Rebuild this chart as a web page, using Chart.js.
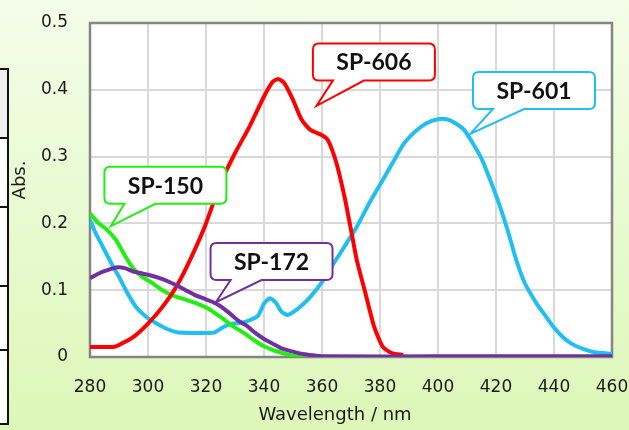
<!DOCTYPE html>
<html>
<head>
<meta charset="utf-8">
<script src="https://cdn.jsdelivr.net/npm/chart.js@4.4.1/dist/chart.umd.min.js"></script>
<style>
  html, body { margin: 0; padding: 0; }
  body {
    width: 629px; height: 430px; overflow: hidden; position: relative;
    background: linear-gradient(#f4fde9, #dcf7b8);
  }
  #wrap { position: absolute; left: 0; top: 0; width: 629px; height: 430px; }
  .cell { position: absolute; left: -3px; width: 8px; border: 2px solid #111; background: #fff; }
</style>
</head>
<body>
<div class="cell" style="top:68px;height:67px;background:#f0f0f0"></div>
<div class="cell" style="top:137px;height:67px"></div>
<div class="cell" style="top:206px;height:77px"></div>
<div class="cell" style="top:285px;height:62px"></div>
<div class="cell" style="top:349px;height:72px"></div>
<div id="wrap"><canvas id="chart" width="629" height="430"></canvas></div>
<script>
// SP-606 (red)
const sp606Nm  = [280, 285, 288, 290, 295, 300, 305, 310, 315, 320, 325, 330, 335, 340, 343, 345, 347, 350, 353, 356, 360, 362, 365, 368, 370, 372, 375, 378, 381, 384, 388];
const sp606Abs = [0.015, 0.015, 0.015, 0.018, 0.03, 0.05, 0.075, 0.107, 0.15, 0.2, 0.26, 0.305, 0.345, 0.39, 0.412, 0.416, 0.41, 0.385, 0.355, 0.34, 0.332, 0.325, 0.29, 0.235, 0.19, 0.145, 0.095, 0.045, 0.015, 0.006, 0.003];

// SP-601 (light blue)
const sp601Nm  = [280, 282, 285, 288, 290, 293, 296, 300, 303, 306, 310, 315, 320, 323, 326, 329, 332, 335, 338, 340, 342, 344, 346, 348, 350, 353, 356, 360, 364, 368, 372, 376, 380, 384, 388, 392, 396, 400, 403, 406, 409, 412, 415, 418, 421, 424, 427, 430, 434, 437, 440, 443, 446, 450, 454, 460];
const sp601Abs = [0.205, 0.185, 0.16, 0.135, 0.12, 0.095, 0.074, 0.058, 0.05, 0.043, 0.037, 0.036, 0.036, 0.037, 0.045, 0.05, 0.051, 0.055, 0.062, 0.08, 0.088, 0.082, 0.068, 0.063, 0.067, 0.077, 0.09, 0.112, 0.14, 0.167, 0.195, 0.228, 0.258, 0.288, 0.318, 0.337, 0.35, 0.356, 0.356, 0.35, 0.34, 0.32, 0.297, 0.265, 0.23, 0.19, 0.145, 0.11, 0.08, 0.062, 0.044, 0.03, 0.02, 0.012, 0.007, 0.005];

// SP-150 (green)
const sp150Nm  = [280, 283, 286, 289, 292, 295, 298, 301, 305, 309, 313, 317, 321, 325, 329, 333, 337, 340, 344, 348, 352, 356, 400, 460];
const sp150Abs = [0.215, 0.2, 0.19, 0.175, 0.152, 0.132, 0.12, 0.112, 0.1, 0.091, 0.086, 0.08, 0.072, 0.06, 0.047, 0.036, 0.024, 0.016, 0.009, 0.004, 0.001, 0, 0, 0];

// SP-172 (purple)
const sp172Nm  = [280, 283, 286, 289, 292, 295, 298, 301, 304, 307, 310, 313, 316, 319, 322, 325, 328, 331, 334, 337, 340, 343, 346, 350, 354, 358, 362, 400, 460];
const sp172Abs = [0.118, 0.125, 0.13, 0.134, 0.133, 0.128, 0.125, 0.122, 0.118, 0.113, 0.107, 0.1, 0.093, 0.088, 0.083, 0.076, 0.066, 0.055, 0.047, 0.036, 0.027, 0.02, 0.013, 0.008, 0.004, 0.002, 0.001, 0.001, 0.001];

const xTicks = [280, 300, 320, 340, 360, 380, 400, 420, 440, 460];
const yTicks = [0, 0.1, 0.2, 0.3, 0.4, 0.5];

// callouts: box centre and pointer tip in data units
const calloutLabels = ['SP-606', 'SP-601', 'SP-150', 'SP-172'];
const calloutColors = ['#ff0000', '#1fbff2', '#22ee11', '#7030a0'];
const calloutBoxNm  = [377.9, 433.1, 306.0, 342.6];
const calloutBoxAbs = [0.4416, 0.399, 0.257, 0.143];
const calloutTipNm  = [358.1, 411.1, 287.2, 323.4];
const calloutTipAbs = [0.376, 0.334, 0.196, 0.082];

const pairs = (xs, ys) => xs.map((x, i) => ({ x, y: ys[i] }));

const plotBackground = {
  id: 'plotBackground',
  beforeDraw(chart) {
    const { ctx, chartArea: a } = chart;
    ctx.save();
    ctx.fillStyle = '#ffffff';
    ctx.fillRect(a.left, a.top, a.right - a.left, a.bottom - a.top);
    ctx.restore();
  },
  beforeDatasetsDraw(chart) {
    const { ctx, chartArea: a } = chart;
    ctx.save();
    ctx.strokeStyle = '#858585';
    ctx.lineWidth = 2.5;
    ctx.strokeRect(a.left, a.top, a.right - a.left, a.bottom - a.top);
    ctx.restore();
  }
};

const axisTitles = {
  id: 'axisTitles',
  afterDraw(chart) {
    const { ctx, chartArea: a } = chart;
    ctx.save();
    ctx.fillStyle = '#1a1a1a';
    ctx.font = '18px "DejaVu Sans"';
    ctx.textAlign = 'center';
    ctx.textBaseline = 'middle';
    ctx.fillText('Wavelength / nm', (a.left + a.right) / 2 - 16, 415);
    ctx.translate(20, (a.top + a.bottom) / 2 - 10);
    ctx.rotate(-Math.PI / 2);
    ctx.fillText('Abs.', 0, 0);
    ctx.restore();
  }
};

const callouts = {
  id: 'callouts',
  afterDatasetsDraw(chart) {
    const { ctx, scales: { x, y } } = chart;
    const w = 122, h = 37, r = 6;
    calloutLabels.forEach((label, i) => {
      const cx = x.getPixelForValue(calloutBoxNm[i]);
      const cy = y.getPixelForValue(calloutBoxAbs[i]);
      const tx = x.getPixelForValue(calloutTipNm[i]);
      const ty = y.getPixelForValue(calloutTipAbs[i]);
      const l = cx - w / 2, t = cy - h / 2, rr = l + w, b = t + h;
      ctx.save();
      ctx.beginPath();
      ctx.moveTo(l + r, t);
      ctx.lineTo(rr - r, t);
      ctx.quadraticCurveTo(rr, t, rr, t + r);
      ctx.lineTo(rr, b - r);
      ctx.quadraticCurveTo(rr, b, rr - r, b);
      ctx.lineTo(l + 51, b);
      ctx.lineTo(tx, ty);
      ctx.lineTo(l + 20, b);
      ctx.lineTo(l + r, b);
      ctx.quadraticCurveTo(l, b, l, b - r);
      ctx.lineTo(l, t + r);
      ctx.quadraticCurveTo(l, t, l + r, t);
      ctx.closePath();
      ctx.fillStyle = '#ffffff';
      ctx.fill();
      ctx.strokeStyle = calloutColors[i];
      ctx.lineWidth = 2;
      ctx.stroke();
      ctx.fillStyle = '#111111';
      ctx.font = 'bold 23px Lato';
      ctx.textAlign = 'center';
      ctx.textBaseline = 'middle';
      ctx.fillText(label, cx, cy + 1);
      ctx.restore();
    });
  }
};

const lineStyle = { showLine: true, pointRadius: 0, borderWidth: 4, tension: 0.2, fill: false };

new Chart(document.getElementById('chart'), {
  type: 'scatter',
  data: {
    datasets: [
      { ...lineStyle, label: 'SP-172', data: pairs(sp172Nm, sp172Abs), borderColor: '#7030a0', order: 0 },
      { ...lineStyle, label: 'SP-606', data: pairs(sp606Nm, sp606Abs), borderColor: '#ff0000', order: 1 },
      { ...lineStyle, label: 'SP-150', data: pairs(sp150Nm, sp150Abs), borderColor: '#22ee11', order: 2 },
      { ...lineStyle, label: 'SP-601', data: pairs(sp601Nm, sp601Abs), borderColor: '#1fbff2', order: 3 }
    ]
  },
  options: {
    responsive: false,
    animation: false,
    events: [],
    layout: { padding: { left: 0, top: 23, right: 17, bottom: 0 } },
    plugins: { legend: { display: false }, tooltip: { enabled: false } },
    scales: {
      x: {
        type: 'linear', min: 280, max: 460,
        afterFit: s => { s.height = 73; s.paddingLeft = 0; s.paddingRight = 0; },
        afterBuildTicks: s => { s.ticks = xTicks.map(v => ({ value: v })); },
        grid: { color: '#d9d9d9', lineWidth: 2, drawTicks: false },
        border: { display: false },
        ticks: { color: '#1a1a1a', font: { family: 'DejaVu Sans', size: 17 }, padding: 20, maxRotation: 0 }
      },
      y: {
        type: 'linear', min: 0, max: 0.5,
        afterFit: s => { s.width = 90; s.paddingTop = 0; s.paddingBottom = 0; },
        afterBuildTicks: s => { s.ticks = yTicks.map(v => ({ value: v })); },
        grid: { color: '#d9d9d9', lineWidth: 2, drawTicks: false },
        border: { display: false },
        ticks: {
          color: '#1a1a1a', font: { family: 'DejaVu Sans', size: 17 }, padding: 22,
          callback: v => v === 0 ? '0' : v.toFixed(1)
        }
      }
    }
  },
  plugins: [plotBackground, callouts, axisTitles]
});
</script>
</body>
</html>
